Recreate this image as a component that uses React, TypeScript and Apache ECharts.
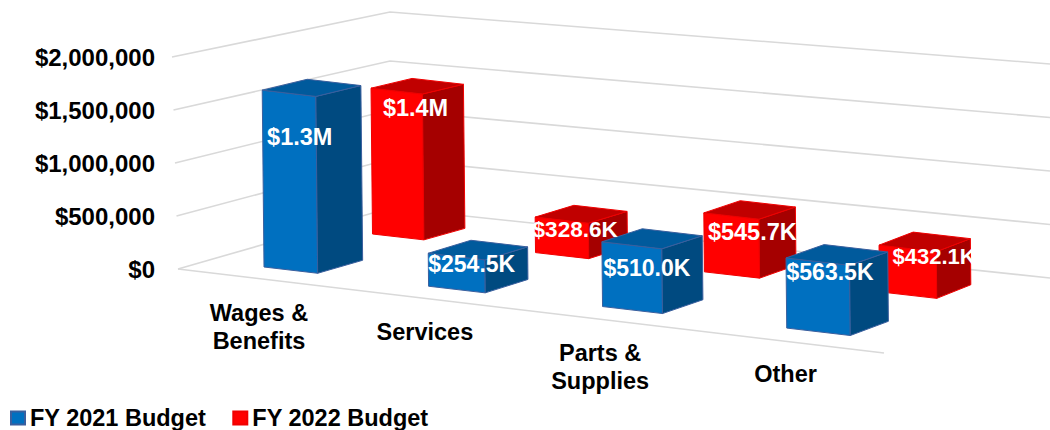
import React, { useEffect, useRef } from "react";
import * as echarts from "echarts";

const categories = ["Wages &\nBenefits", "Services", "Parts &\nSupplies", "Other"];
const fy2021 = [1340000, 254500, 510000, 563500];
const fy2022 = [1350000, 328600, 545700, 432100];
const fy2021Labels = ["$1.3M", "$254.5K", "$510.0K", "$563.5K"];
const fy2022Labels = ["$1.4M", "$328.6K", "$545.7K", "$432.1K"];
const ticks = [0, 500000, 1000000, 1500000, 2000000];

const FONT = '"Liberation Sans", Arial, sans-serif';
const BLUE = { front: "#0070C0", side: "#004A80", top: "#005A9C", stroke: "#3A5F9E" };
const RED = { front: "#FF0000", side: "#A50000", top: "#C00000", stroke: "#F00000" };

// Perspective model of each row of bars on the chart floor
const rowBlue = { ox: 264, oy: 267, ax: 153, ay: 11.5, g: -0.027, wu: 0.332, sdx: 45, sdxStep: -2.3, sdy: -13, sdyStep: -0.4, hs: 1.245, hsStep: -0.0236 };
const rowRed = { ox: 372.5, oy: 234, ax: 153.7, ay: 14.2, g: -0.0174, wu: 0.319, sdx: 41, sdxStep: -2.3, sdy: -11.5, sdyStep: -0.7, hs: 1.019, hsStep: 0 };
const blueLabelOffset = [[37.5, 47], [43.5, 10.5], [45, 26], [44, 14.5]];
const redLabelOffset = [[44.5, 19.5], [40, 12], [48.5, 19], [55, 11]];
const blueLabelSize = [23.5, 23, 23, 23];
const redLabelSize = [23.5, 22.5, 23.5, 22];

type Row = typeof rowBlue;

function project(row: Row, X: number): [number, number] {
  const w = 1 + row.g * X;
  return [(row.ax * X + row.ox) / w, (row.ay * X + row.oy) / w];
}

function barGeometry(row: Row, i: number, flatH: number) {
  const h = flatH * (row.hs + row.hsStep * i);
  const A = project(row, i);
  const B = project(row, i + row.wu);
  const lean = -0.01 * h;
  const At: [number, number] = [A[0] + lean, A[1] - h];
  const Bt: [number, number] = [B[0] + lean, B[1] - h];
  const sx = row.sdx + row.sdxStep * i;
  const sy = row.sdy + row.sdyStep * i;
  const sh = (p: [number, number]): [number, number] => [p[0] + sx, p[1] + sy];
  const shTop = (p: [number, number]): [number, number] => [p[0] + sx, p[1] + sy + 0.012 * h];
  return { A, B, At, Bt, sh, shTop };
}

function barSeries(name: string, values: number[], row: Row, c: typeof BLUE) {
  return {
    name,
    type: "custom",
    coordinateSystem: "cartesian2d",
    clip: false,
    silent: true,
    itemStyle: { color: c.front, borderColor: c.stroke, borderWidth: 1 },
    encode: { x: 0, y: 1 },
    data: values.map((v, i) => [i, v]),
    renderItem: (_: any, api: any) => {
      const i = api.value(0);
      const v = api.value(1);
      const flatH = api.coord([i, 0])[1] - api.coord([i, v])[1];
      const { A, B, At, Bt, sh, shTop } = barGeometry(row, i, flatH);
      const st = { stroke: c.stroke, lineWidth: 1, lineJoin: "round" };
      return {
        type: "group",
        children: [
          { type: "polygon", shape: { points: [A, B, Bt, At] }, style: { fill: c.front, ...st } },
          { type: "polygon", shape: { points: [B, sh(B), shTop(Bt), Bt] }, style: { fill: c.side, ...st } },
          { type: "polygon", shape: { points: [At, Bt, shTop(Bt), shTop(At)] }, style: { fill: c.top, ...st } },
        ],
      };
    },
  };
}

function wallSeries() {
  return {
    name: "walls",
    type: "custom",
    coordinateSystem: "cartesian2d",
    clip: false,
    silent: true,
    encode: { x: 0, y: 1 },
    data: ticks.map((t) => [0, t]),
    renderItem: (params: any, api: any) => {
      const k = params.dataIndex;
      const y = api.coord([0, api.value(1)])[1];
      const stroke = "#D9D9D9";
      const pts = [
        [178 - 1.5 * k, y],
        [390, 208 - 49 * k],
        [1050, 278 - 53.5 * k],
      ];
      const children: any[] = [
        { type: "polyline", shape: { points: pts }, style: { stroke, lineWidth: 1.6, fill: "none" } },
      ];
      if (k === 0) {
        children.push({
          type: "line",
          shape: { x1: 178, y1: y, x2: 884, y2: 353 },
          style: { stroke, lineWidth: 1.6 },
        });
      }
      return { type: "group", children };
    },
  };
}

function labelSeries() {
  const data: number[][] = [];
  fy2022.forEach((v, i) => data.push([i, v, 1]));
  fy2021.forEach((v, i) => data.push([i, v, 0]));
  return {
    name: "labels",
    type: "custom",
    coordinateSystem: "cartesian2d",
    clip: false,
    silent: true,
    encode: { x: 0, y: 1 },
    data,
    renderItem: (_: any, api: any) => {
      const i = api.value(0);
      const v = api.value(1);
      const isRed = api.value(2) === 1;
      const row = isRed ? rowRed : rowBlue;
      const flatH = api.coord([i, 0])[1] - api.coord([i, v])[1];
      const { At } = barGeometry(row, i, flatH);
      const off = (isRed ? redLabelOffset : blueLabelOffset)[i];
      const size = (isRed ? redLabelSize : blueLabelSize)[i];
      return {
        type: "text",
        style: {
          text: (isRed ? fy2022Labels : fy2021Labels)[i],
          x: At[0] + off[0],
          y: At[1] + off[1],
          fill: "#FFFFFF",
          font: `bold ${size}px ${FONT}`,
          textAlign: "center",
          textVerticalAlign: "middle",
        },
      };
    },
  };
}

function categorySeries() {
  return {
    name: "categories",
    type: "custom",
    coordinateSystem: "cartesian2d",
    clip: false,
    silent: true,
    encode: { x: 0, y: 1 },
    data: categories.map((_, i) => [i, 0]),
    renderItem: (_: any, api: any) => {
      const i = api.value(0);
      const p = project(rowBlue, i);
      return {
        type: "text",
        style: {
          text: categories[i],
          x: p[0] - 5 + 1.3 * i,
          y: p[1] + 32,
          fill: "#000000",
          font: `bold 23.5px ${FONT}`,
          lineHeight: 28,
          textAlign: "center",
          textVerticalAlign: "top",
        },
      };
    },
  };
}

export default function App() {
  const ref = useRef<HTMLDivElement>(null);
  useEffect(() => {
    document.body.style.margin = "0";
    const chart = echarts.init(ref.current!, undefined, { renderer: "svg" });
    chart.setOption({
      animation: false,
      backgroundColor: "#FFFFFF",
      grid: { left: 165, right: 0, top: 57, height: 212, containLabel: false },
      xAxis: { type: "category", data: categories, show: false },
      yAxis: {
        type: "value",
        min: 0,
        max: 2000000,
        interval: 500000,
        axisLine: { show: false },
        axisTick: { show: false },
        splitLine: { show: false },
        axisLabel: {
          margin: 10,
          color: "#000000",
          fontFamily: FONT,
          fontWeight: "bold",
          fontSize: 24,
          padding: [4, 0, 0, 0],
          formatter: (v: number) => "$" + v.toLocaleString("en-US"),
        },
      },
      legend: {
        data: [
          { name: "FY 2021 Budget", icon: "rect" },
          { name: "FY 2022 Budget", icon: "rect" },
        ],
        left: 5,
        top: 401,
        itemWidth: 14,
        itemHeight: 13,
        itemGap: 26,
        textStyle: { color: "#000000", fontFamily: FONT, fontWeight: "bold", fontSize: 23.5 },
      },
      series: [
        wallSeries(),
        barSeries("FY 2022 Budget", fy2022, rowRed, RED),
        barSeries("FY 2021 Budget", fy2021, rowBlue, BLUE),
        labelSeries(),
        categorySeries(),
      ],
    });
    return () => chart.dispose();
  }, []);
  return <div ref={ref} style={{ position: "fixed", left: 0, top: 0, width: 1050, height: 430 }} />;
}
